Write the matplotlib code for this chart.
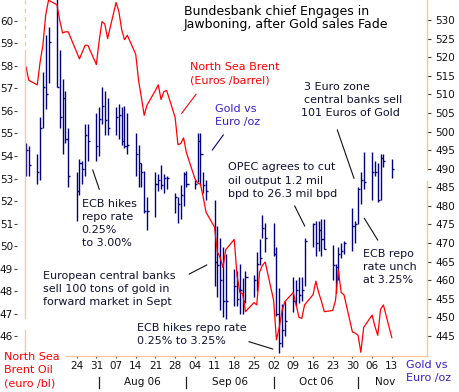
import matplotlib
matplotlib.use('Agg')
import matplotlib.pyplot as plt
import matplotlib.dates as mdates
from matplotlib.lines import Line2D
from matplotlib.transforms import blended_transform_factory
import pandas as pd

W, H = 460, 392

# ---------------- data ----------------
dates = pd.bdate_range('2006-07-06', '2006-11-13')

gold_high = [497, 496, 494, 504, 516, 526, 528, 536, 522, 514, 511, 501,
             489, 492.5, 492, 502, 502, 505, 506.5, 512, 511, 509,
             506.5, 507.5, 506.5, 507, 505, 499.5, 496.5, 491.5, 489.5, 482.5,
             489, 488.5, 491, 488.5, 488, 483.5, 482.5, 485.5, 489, 489.5,
             487, 499.5, 499.5, 489, 487, 481.5, 474.5, 471.5, 469, 467,
             463, 462.5, 464.5, 460.5, 462.5, 461.5, 467.5, 471, 477.5, 475.5,
             475.5, 469, 458, 453.5, 454.5, 461, 460, 461, 461, 471.5,
             475.5, 476, 476, 476.5, 476.5, 469.5, 464.5, 469, 470, 470.5,
             479.5, 476, 485, 489, 494.5, 494.5, 492, 491.5, 494, 494, 492.5]
gold_low = [488, 488, 486, 487, 501, 506, 513, 512, 501, 494, 497, 485,
            476, 483, 486, 488, 492, 492, 493.5, 502, 499, 499,
            499, 498, 496.5, 495.5, 494, 488, 485, 485, 478, 473.5,
            477, 484, 484.5, 483.5, 484.5, 478, 475.5, 476.5, 480, 485,
            484.5, 486.5, 485.5, 483.5, 481.5, 458.5, 455.5, 452, 450, 449.5,
            453, 453, 451, 451, 454, 455.5, 457, 464, 471.5, 467.5,
            466.5, 450.5, 440.5, 442, 445, 451.5, 453, 454, 454.5, 458.5,
            469, 466.5, 468, 466.5, 468.5, 460, 456.5, 460, 466, 467,
            468, 470, 475, 480.5, 484.5, 481.5, 488, 481, 481.5, 490.5, 487.5]
gold_close = [495, 491, 489, 501, 512, 510, 524, 512, 504, 509, 498, 488,
              484, 491.5, 490, 499, 497.5, 496, 503.5, 507, 503, 501,
              504, 504.5, 497.5, 496, 496.5, 494, 491.5, 489, 478.5, 478.5,
              486, 487, 485.5, 487.5, 487.5, 482.5, 480.5, 483, 488.5, 486,
              486, 497.5, 494, 485.5, 484, 465, 464, 460, 454.5, 454.5,
              458.5, 455, 457.5, 454.5, 461, 460, 464.5, 466, 474, 471.5,
              467, 451, 443, 446.5, 449, 454.5, 457.5, 456, 457.5, 470.5,
              475, 470, 473.5, 471, 468.5, 464, 463.5, 467, 468, 470,
              474.5, 475, 484.5, 487, 486.5, 489, 489, 481.5, 493, 492, 490]
brent = [57.95, 57.35, 57.15, 58.15, 58.9, 60.25, 60.9, 60.7, 60.0, 59.45, 59.5, 59.5,
         58.6, 58.3, 58.6, 58.9, 58.9, 58.05, 59.1, 59.95, 59.85, 59.2,
         60.8, 60.4, 59.6, 59.15, 59.35, 58.5, 57.35, 56.6, 55.8, 56.25,
         56.9, 57.15, 56.5, 56.85, 56.9, 55.7, 54.5, 54.55, 54.8, 54.15,
         53.0, 52.8, 52.75, 52.15, 51.5, 50.85, 49.75, 49.5, 49.05, 49.85,
         50.3, 48.7, 47.95, 47.9, 47.1, 47.5, 47.4, 48.85, 49.15, 49.3,
         47.6, 45.85, 46.4, 47.15, 47.55, 47.95, 47.4, 46.85, 46.8, 47.4,
         47.85, 48.45, 47.95, 47.55, 47.1, 47.15, 47.6, 48.95, 47.95, 47.85,
         46.2, 46.15, 46.05, 45.3, 46.4, 46.95, 46.45, 46.05, 47.2, 47.4, 45.95]

left_ticks = list(range(46, 61))
right_ticks = list(range(445, 531, 5))
week_ticks = pd.date_range('2006-07-24', '2006-11-13', freq='W-MON')
month_labels = ['Aug 06', 'Sep 06', 'Oct 06', 'Nov']
month_bounds = pd.to_datetime(['2006-08-01', '2006-09-01', '2006-10-02',
                               '2006-11-01', '2006-11-20'])

# ---------------- style ----------------
RED = '#ff0000'
NAVY = '#000080'
LBLUE = '#3a1fc0'
PEACH = '#f7c7a1'
TXT = '#111133'
PX = 0.72  # points per pixel at dpi 100
plt.rcParams['font.family'] = ['DejaVu Sans']

fig = plt.figure(figsize=(W / 100, H / 100), dpi=100)
ax = fig.add_axes([25 / W, 1 - 356 / H, 402 / W, 356 / H])
ax2 = ax.twinx()

xnum = mdates.date2num(dates)
x0 = mdates.date2num(pd.Timestamp('2006-07-06')) - 0.355
ax.set_xlim(x0, x0 + 142.86)

# gold OHLC-like bars (right axis)
ax2.vlines(xnum, gold_low, gold_high, color=NAVY, lw=1.0)
ax2.hlines(gold_close, xnum, xnum + 0.75, color=NAVY, lw=1.0)
ax2.set_ylim(439.63, 535.38)
ax2.set_yticks(right_ticks)

# brent line (left axis)
ax.plot(xnum, brent, color=RED, lw=0.9)
ax.set_ylim(45.135, 60.91)
ax.set_yticks(left_ticks)

ax.set_zorder(ax2.get_zorder() + 1)
ax.patch.set_visible(False)

for a in (ax, ax2):
    for s in a.spines.values():
        s.set_visible(False)
ax.spines['left'].set_position(('outward', 8 * PX))

ax.set_xticks(mdates.date2num(week_ticks))
ax.set_xticklabels([d.strftime('%d') for d in week_ticks])
ax.tick_params(axis='x', length=2 * PX, width=0.8, color='#444444', pad=2.5,
               labelsize=7.5, labelcolor='#111111')
ax.tick_params(axis='y', direction='out', length=3 * PX, width=0.8, color='#444444',
               pad=1 * PX, labelsize=7.5, labelcolor='#111111')
ax2.tick_params(axis='y', direction='out', length=4 * PX, width=0.8, color='#444444',
                pad=4 * PX, labelsize=7.5, labelcolor='#111111')


def fline(xa, ya, xb, yb, **kw):
    fig.add_artist(Line2D([xa / W, xb / W], [1 - ya / H, 1 - yb / H],
                          transform=fig.transFigure, **kw))


def block(x, y0, dy, lines, **kw):
    for i, s in enumerate(lines):
        fig.text(x / W, 1 - (y0 + i * dy) / H, s, ha='left', va='center', **kw)


# custom axis lines
fline(25, 0, 25, 50, color=PEACH, lw=1.0, ls=(0, (3, 3)))
fline(25, 50, 25, 318, color=PEACH, lw=1.0)
fline(25, 330, 25, 350, color=PEACH, lw=1.0)
fline(427, 0, 427, 170, color=PEACH, lw=1.0)
fline(427, 181, 427, 356, color=PEACH, lw=1.0)
fline(66, 356, 427, 356, color=PEACH, lw=1.0)

# month labels and separators
btr = blended_transform_factory(ax.transData, fig.transFigure)
mb = mdates.date2num(month_bounds)
for i, lab in enumerate(month_labels):
    mid = (mb[i] + mb[i + 1]) / 2
    fig.text(mid, 1 - 381.7 / H, lab, transform=btr, ha='center', va='center',
             fontsize=7.5, color='#111111')
for b in mb[:4]:
    fig.add_artist(Line2D([b, b], [1 - 376.7 / H, 1 - 388 / H], transform=btr,
                          color='#222222', lw=0.9))

# title
block(184, 11, 13.3, ['Bundesbank chief Engages in',
                      'Jawboning, after Gold sales Fade'], fontsize=9, color='#000000')

# series labels
block(190, 67.3, 12.8, ['North Sea Brent', '(Euros /barrel)'], fontsize=8, color=RED)
fline(181.7, 113.3, 196, 94.3, color=RED, lw=0.8)
block(215, 109, 13, ['Gold vs', 'Euro /oz'], fontsize=8, color=LBLUE)
fline(212.3, 150, 223.3, 135, color=NAVY, lw=0.8)

# annotations
block(304, 87.3, 12.7, ['3 Euro zone', 'central banks sell'], fontsize=8, color=TXT)
block(300.7, 112.7, 0, ['101 Euros of Gold'], fontsize=8, color=TXT)
fline(337.3, 130, 354, 178.3, color='#111111', lw=0.8)

block(228, 167.5, 13.2, ['OPEC agrees to cut', 'oil output 1.2 mil',
                         'bpd to 26.3 mil bpd'], fontsize=8, color=TXT)
fline(294.7, 206, 304.7, 226, color='#111111', lw=0.8)

block(81.7, 204, 13.1, ['ECB hikes', 'repo rate', '0.25%', 'to 3.00%'],
      fontsize=8, color=TXT)
fline(92.7, 170, 99.3, 189.3, color='#111111', lw=0.8)

block(43, 276, 12.9, ['European central banks', 'sell 100 tons of gold in',
                      'forward market in Sept'], fontsize=8, color=TXT)
fline(189.3, 274, 206.7, 265, color='#111111', lw=0.8)

block(137.3, 327.7, 13.3, ['ECB hikes repo rate', '0.25% to 3.25%'],
      fontsize=8, color=TXT)
fline(249, 341.7, 272.7, 349, color='#111111', lw=0.8)

block(363.3, 254.3, 12.9, ['ECB repo', 'rate unch', 'at 3.25%'],
      fontsize=8, color=TXT)
fline(364.3, 218.3, 377.7, 240, color='#111111', lw=0.8)

# axis names
block(4, 357.3, 13, ['North Sea', 'Brent Oil', '(euro /bl)'], fontsize=8, color=RED)
block(405.7, 365, 13.3, ['Gold vs', 'Euro /oz'], fontsize=8, color=LBLUE)

fig.savefig('out.png', dpi=100)
